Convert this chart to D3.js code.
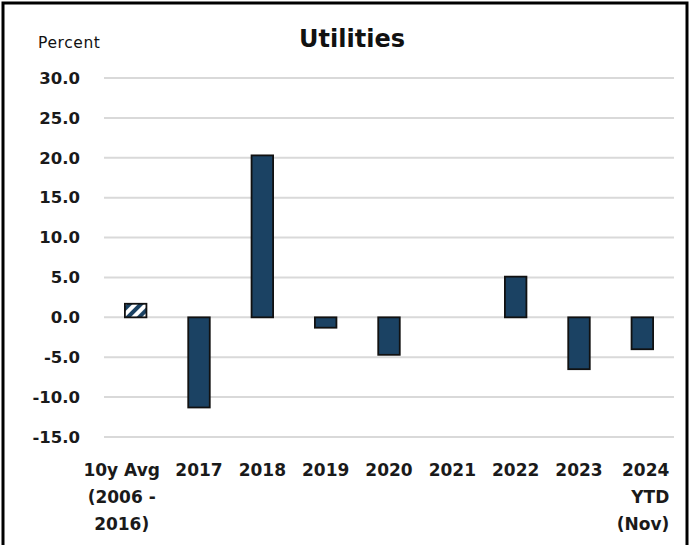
<!DOCTYPE html>
<html>
<head>
<meta charset="utf-8">
<script src="https://cdn.jsdelivr.net/npm/d3@7"></script>
<style>
  body { margin: 0; background: #fff; }
  .tick text { font-family: "DejaVu Sans", sans-serif; }
</style>
</head>
<body>
<div id="chart"></div>
<script>
// data
var categories = ["10y Avg", "2017", "2018", "2019", "2020", "2021", "2022", "2023", "2024"];
var labelLines = [["10y Avg", "(2006 -", "2016)"], ["2017"], ["2018"], ["2019"], ["2020"], ["2021"], ["2022"], ["2023"], ["2024", "YTD", "(Nov)"]];
var values = [1.7, -11.3, 20.3, -1.3, -4.7, 0, 5.1, -6.5, -4.0];
var yTicks = [-15, -10, -5, 0, 5, 10, 15, 20, 25, 30];

var svgWidth = 690;
var svgHeight = 545;
var margin = { top: 78, right: 16, bottom: 108, left: 104 };
var width = svgWidth - margin.left - margin.right;
var height = svgHeight - margin.top - margin.bottom;

var svg = d3.select("#chart").append("svg")
    .attr("width", svgWidth)
    .attr("height", svgHeight);

// hatch pattern for the average bar
var defs = svg.append("defs");
var pat = defs.append("pattern")
    .attr("id", "hatch")
    .attr("patternUnits", "userSpaceOnUse")
    .attr("width", 8)
    .attr("height", 8)
    .attr("patternTransform", "rotate(45)");
pat.append("rect").attr("width", 8).attr("height", 8).attr("fill", "#fff");
pat.append("rect").attr("width", 4).attr("height", 8).attr("fill", "#1b4263");

// outer frame (bottom edge runs off the picture)
svg.append("rect")
    .attr("x", 3).attr("y", 3)
    .attr("width", svgWidth - 6).attr("height", svgHeight + 10)
    .attr("fill", "none")
    .attr("stroke", "#000")
    .attr("stroke-width", 3);

var chartGroup = svg.append("g")
    .attr("transform", `translate(${margin.left}, ${margin.top})`);

var x = d3.scaleBand()
    .domain(categories)
    .range([0, width])
    .paddingInner(0.66)
    .paddingOuter(0.33);

var y = d3.scaleLinear()
    .domain([-15, 30])
    .range([height, 0]);

// gridlines
chartGroup.append("g")
    .selectAll("line")
    .data(yTicks)
    .enter()
    .append("line")
    .attr("x1", 0)
    .attr("x2", width)
    .attr("y1", d => y(d))
    .attr("y2", d => y(d))
    .attr("stroke", "#d9d9d9")
    .attr("stroke-width", 2);

// y axis (plain hyphen for negatives, like the original)
var leftAxis = d3.axisLeft(y).tickValues(yTicks).tickFormat(d => d.toFixed(1)).tickSize(0).tickPadding(24);
var yAxis = chartGroup.append("g").call(leftAxis);
yAxis.select(".domain").remove();
yAxis.selectAll("text")
    .attr("font-size", "16.5px")
    .attr("font-weight", "bold")
    .attr("fill", "#1a1a1a");

// bars
chartGroup.selectAll(".bar")
    .data(values)
    .enter()
    .append("rect")
    .attr("class", "bar")
    .attr("x", (d, i) => x(categories[i]))
    .attr("width", x.bandwidth())
    .attr("y", d => y(Math.max(0, d)))
    .attr("height", d => Math.abs(y(d) - y(0)))
    .attr("fill", (d, i) => i === 0 ? "url(#hatch)" : "#1b4263")
    .attr("stroke", "#111")
    .attr("stroke-width", d => d === 0 ? 0 : 1.8);

// x labels, wrapped by hand like the original
var xLabels = chartGroup.append("g")
    .selectAll("text")
    .data(labelLines)
    .enter()
    .append("text")
    .attr("x", (d, i) => x(categories[i]) + x.bandwidth() / 2 + (i === 0 ? -14 : (i === 8 ? 27 : 0)))
    .attr("y", height + 39)
    .attr("text-anchor", (d, i) => i === 8 ? "end" : "middle")
    .attr("font-family", "'DejaVu Sans', sans-serif")
    .attr("font-size", "17px")
    .attr("font-weight", "bold")
    .attr("fill", "#1a1a1a");

xLabels.selectAll("tspan")
    .data(d => d)
    .enter()
    .append("tspan")
    .attr("x", function() { return d3.select(this.parentNode).attr("x"); })
    .attr("dy", (d, i) => i === 0 ? 0 : 27)
    .text(d => d);

// title and unit label
svg.append("text")
    .attr("x", 352)
    .attr("y", 47)
    .attr("text-anchor", "middle")
    .attr("font-family", "'DejaVu Sans', sans-serif")
    .attr("font-size", "24px")
    .attr("font-weight", "bold")
    .attr("fill", "#111")
    .text("Utilities");

svg.append("text")
    .attr("x", 38)
    .attr("y", 48)
    .attr("font-family", "'DejaVu Sans', sans-serif")
    .attr("font-size", "15.5px")
    .attr("letter-spacing", "0.6px")
    .attr("fill", "#111")
    .text("Percent");
</script>
</body>
</html>
